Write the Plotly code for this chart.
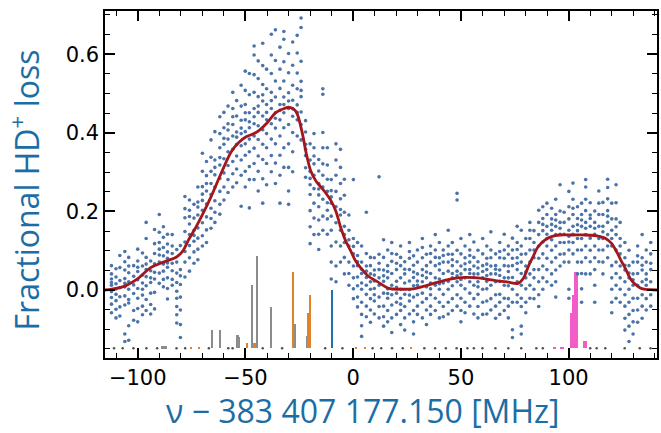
import plotly.graph_objects as go

# ---- measured scan: frequency columns (MHz offset) and fractional loss values ----
freq_left = [-112.2, -110.1, -108.3, -106.0, -104.2, -101.9, -100.0, -97.8, -96.1,
             -94.0, -92.2, -90.0, -88.1, -86.2, -84.0, -81.9, -80.2, -78.1, -76.0,
             -73.9, -72.1]
loss_left = [
    [0.062, 0.041, 0.028, 0.012, -0.004, -0.019, -0.036, -0.058, 0.019],
    [0.054, 0.033, 0.016, 0.003, -0.011, -0.027, -0.049, -0.071],
    [0.088, 0.057, 0.024, -0.017, -0.043, -0.066, 0.006],
    [0.098, 0.072, 0.051, 0.029, 0.008, -0.015, -0.038, -0.112, -0.131, 0.017],
    [0.083, 0.044, 0.021, 0.002, -0.024, -0.033, -0.091, -0.128, 0.061],
    [0.062, 0.035, 0.013, -0.009, -0.052, -0.077],
    [0.104, 0.074, 0.047, 0.026, 0.004, -0.021, -0.047, -0.081, 0.058],
    [0.094, 0.061, 0.038, 0.018, 0.002, -0.013, -0.041, -0.063],
    [0.172, 0.131, 0.083, 0.052, 0.034, 0.011, -0.024, -0.052, 0.066],
    [0.074, 0.049, 0.019, -0.008, -0.037, -0.061, 0.031],
    [0.154, 0.118, 0.093, 0.067, 0.045, 0.028, -0.006, -0.048],
    [0.192, 0.147, 0.121, 0.089, 0.071, 0.043, 0.017, 0.104],
    [0.161, 0.134, 0.108, 0.087, 0.066, 0.048, 0.027, 0.008],
    [0.142, 0.117, 0.097, 0.081, 0.058, 0.031, 0.004, -0.023, 0.069],
    [0.112, 0.093, 0.068, 0.049, 0.027, 0.012, 0.141],
    [0.103, 0.071, 0.043, 0.019, -0.003, -0.021, -0.042, -0.063, -0.084],
    [0.113, 0.052, 0.014, -0.018, -0.051, -0.088, -0.121, 0.036],
    [0.238, 0.207, 0.184, 0.149, 0.122, 0.098, 0.071, 0.033],
    [0.229, 0.203, 0.168, 0.141, 0.113, 0.082, 0.048, 0.187],
    [0.218, 0.183, 0.152, 0.124, 0.097, 0.068, 0.139],
    [0.262, 0.224, 0.191, 0.158, 0.132, 0.104, 0.077, 0.211],
]

freq_peak = [-70.0, -68.1, -66.0, -64.2, -61.9, -60.0, -58.1, -55.9, -54.1, -52.0,
             -50.1, -48.2, -46.0, -44.1, -42.0, -40.2, -38.0, -36.1, -34.0, -32.2,
             -30.0, -28.1, -26.0, -24.2]
loss_peak = [
    [0.348, 0.302, 0.263, 0.228, 0.203, 0.171, 0.138, 0.112, 0.244],
    [0.327, 0.291, 0.252, 0.219, 0.186, 0.153, 0.121, 0.271],
    [0.382, 0.338, 0.302, 0.271, 0.243, 0.208, 0.182, 0.157],
    [0.403, 0.331, 0.293, 0.262, 0.227, 0.198, 0.172, 0.312],
    [0.441, 0.398, 0.362, 0.318, 0.284, 0.251, 0.218, 0.193, 0.337],
    [0.452, 0.413, 0.371, 0.334, 0.298, 0.262, 0.229, 0.386],
    [0.468, 0.423, 0.384, 0.352, 0.317, 0.281, 0.248, 0.407],
    [0.503, 0.462, 0.421, 0.392, 0.358, 0.327, 0.296, 0.262, 0.441],
    [0.482, 0.443, 0.402, 0.371, 0.341, 0.308, 0.273, 0.389],
    [0.521, 0.468, 0.432, 0.398, 0.367, 0.331, 0.292, 0.213, 0.412],
    [0.557, 0.508, 0.472, 0.433, 0.403, 0.372, 0.343, 0.302, 0.262, 0.451],
    [0.551, 0.497, 0.451, 0.413, 0.384, 0.352, 0.314, 0.281, 0.209, 0.428],
    [0.621, 0.598, 0.548, 0.503, 0.462, 0.423, 0.392, 0.361, 0.322, 0.281, 0.441],
    [0.583, 0.538, 0.492, 0.452, 0.418, 0.383, 0.341, 0.302, 0.252, 0.468],
    [0.628, 0.571, 0.523, 0.481, 0.443, 0.408, 0.371, 0.332, 0.283, 0.221, 0.497],
    [0.562, 0.512, 0.472, 0.433, 0.398, 0.362, 0.322, 0.268, 0.452],
    [0.651, 0.598, 0.551, 0.503, 0.462, 0.423, 0.384, 0.342, 0.301, 0.482],
    [0.662, 0.584, 0.532, 0.491, 0.451, 0.412, 0.372, 0.323, 0.271, 0.437],
    [0.618, 0.562, 0.513, 0.472, 0.433, 0.392, 0.343, 0.292, 0.221, 0.457],
    [0.658, 0.638, 0.581, 0.532, 0.491, 0.451, 0.413, 0.362, 0.312, 0.472],
    [0.602, 0.553, 0.502, 0.462, 0.421, 0.372, 0.312, 0.252, 0.218, 0.481],
    [0.631, 0.572, 0.521, 0.483, 0.442, 0.401, 0.352, 0.301, 0.461],
    [0.648, 0.603, 0.552, 0.512, 0.471, 0.433, 0.392, 0.452],
    [0.692, 0.668, 0.582, 0.531, 0.492, 0.453, 0.421, 0.382, 0.508],
]

freq_mid = [-22.1, -20.0, -18.2, -16.0, -14.1, -12.0, -10.2, -8.0, -5.9, -4.1,
            -2.0, 0.1, 2.0, 3.9, 6.1, 8.0, 9.8, 12.0, 14.1, 16.0, 17.9, 20.1,
            22.0, 23.9, 26.1, 28.0, 29.8, 32.1, 34.0, 35.9, 38.1, 40.0, 41.8,
            44.1, 46.0, 48.2, 50.0, 51.9, 54.1, 56.0, 57.9, 60.1, 62.0, 63.9,
            66.1, 68.0, 70.1, 72.0, 73.9, 76.1]
loss_mid = [
    [0.431, 0.402, 0.371, 0.342, 0.311, 0.287, 0.358],
    [0.372, 0.331, 0.302, 0.268, 0.243, 0.202, 0.161, 0.118, 0.284],
    [0.398, 0.362, 0.321, 0.292, 0.258, 0.221, 0.183, 0.141, 0.341],
    [0.332, 0.303, 0.271, 0.242, 0.212, 0.178, 0.142, 0.103, 0.257],
    [0.512, 0.498, 0.401, 0.362, 0.321, 0.292, 0.262, 0.231, 0.188, 0.152],
    [0.362, 0.318, 0.282, 0.251, 0.222, 0.181, 0.142, 0.203],
    [0.281, 0.253, 0.221, 0.188, 0.152, 0.112, 0.071, 0.028, 0.237],
    [0.372, 0.331, 0.292, 0.251, 0.212, 0.171, 0.122, 0.061, 0.021],
    [0.358, 0.312, 0.271, 0.232, 0.191, 0.152, 0.112, 0.071, 0.205],
    [0.282, 0.241, 0.198, 0.162, 0.121, 0.083, 0.041, 0.141],
    [0.191, 0.152, 0.112, 0.071, 0.042, 0.012, 0.128],
    [0.281, 0.131, 0.092, 0.061, 0.031, 0.003, -0.022, 0.111],
    [0.121, 0.088, 0.062, 0.033, 0.011, -0.018, -0.043, 0.072],
    [0.112, 0.071, 0.042, 0.018, 0.002, -0.031, -0.062, -0.091, -0.118, 0.053],
    [0.198, 0.093, 0.061, 0.032, 0.012, -0.011, -0.041, -0.068, 0.048],
    [0.062, 0.041, 0.021, 0.002, -0.022, -0.051, -0.082, 0.083],
    [0.082, 0.051, 0.023, 0.004, -0.028, -0.061, 0.038, -0.012],
    [0.288, 0.091, 0.052, 0.031, 0.012, -0.018, -0.042, -0.071, 0.068],
    [0.128, 0.083, 0.051, 0.022, -0.008, -0.041, -0.068, -0.092, 0.036],
    [0.102, 0.062, 0.031, 0.003, -0.021, -0.052, -0.081, 0.047, -0.009],
    [0.121, 0.073, 0.042, 0.012, -0.012, -0.038, -0.071, -0.108, 0.093],
    [0.091, 0.052, 0.022, -0.008, -0.031, -0.062, 0.068, 0.007],
    [0.112, 0.062, 0.031, 0.002, -0.021, -0.052, -0.088, 0.083, -0.036],
    [0.072, 0.041, 0.018, -0.011, -0.042, -0.071, -0.102, 0.053],
    [0.121, 0.081, 0.052, 0.023, 0.001, -0.028, -0.061, 0.098, -0.013],
    [0.063, 0.032, 0.011, -0.018, -0.052, -0.081, -0.112, 0.087, 0.046],
    [0.102, 0.071, 0.041, 0.012, -0.012, -0.041, -0.062, 0.023],
    [0.131, 0.082, 0.052, 0.021, -0.008, -0.031, -0.071, 0.108, 0.037],
    [0.091, 0.062, 0.031, 0.008, -0.022, -0.051, -0.088, 0.046],
    [0.112, 0.071, 0.042, 0.018, -0.012, -0.041, -0.062, 0.093, 0.003],
    [0.141, 0.102, 0.062, 0.031, 0.012, -0.021, -0.052, 0.083],
    [0.121, 0.082, 0.051, 0.028, 0.002, -0.031, -0.071, 0.067, 0.016],
    [0.102, 0.071, 0.042, 0.018, -0.011, -0.042, 0.088, -0.068],
    [0.152, 0.112, 0.071, 0.048, 0.022, 0.002, -0.031, -0.061, 0.091],
    [0.121, 0.091, 0.062, 0.031, 0.011, -0.022, -0.052, 0.042, 0.077],
    [0.246, 0.229, 0.101, 0.072, 0.048, 0.021, -0.012, -0.041, 0.036],
    [0.131, 0.092, 0.061, 0.041, 0.012, -0.021, -0.052, -0.081, 0.027],
    [0.112, 0.082, 0.052, 0.031, 0.003, -0.031, 0.067, -0.058],
    [0.141, 0.102, 0.071, 0.042, 0.021, -0.008, -0.041, 0.088, 0.052],
    [0.122, 0.083, 0.061, 0.032, 0.012, -0.022, -0.061, 0.041],
    [0.101, 0.072, 0.041, 0.021, -0.011, -0.042, -0.071, 0.056, 0.008],
    [0.131, 0.092, 0.062, 0.031, 0.002, -0.031, 0.047, -0.062],
    [0.112, 0.081, 0.052, 0.022, 0.003, -0.028, -0.061, 0.066, 0.037],
    [0.148, 0.102, 0.061, 0.041, 0.012, -0.022, -0.051, 0.082],
    [0.092, 0.062, 0.041, 0.021, -0.012, -0.041, 0.053, -0.072],
    [0.121, 0.082, 0.051, 0.022, -0.011, -0.031, -0.062, 0.037, 0.098],
    [0.142, 0.102, 0.062, 0.031, 0.012, -0.021, -0.052, 0.081],
    [0.091, 0.061, 0.031, 0.011, -0.022, -0.041, -0.071, 0.047, 0.112],
    [0.132, 0.102, 0.062, 0.032, 0.002, -0.031, -0.101, -0.121, 0.081],
    [0.162, 0.121, 0.082, 0.052, 0.021, -0.012, -0.031, 0.103, 0.068],
]

freq_right = [78.0, 80.1, 82.0, 83.9, 86.1, 88.0, 89.9, 92.1, 94.0, 96.0, 97.9,
              100.1, 102.0, 104.1, 106.0, 107.9, 110.0, 112.1, 114.0, 115.9, 118.1,
              120.0, 122.0, 123.9, 126.1, 128.0, 129.9, 132.0, 134.1, 136.0, 138.1]
loss_right = [
    [0.152, 0.112, 0.071, 0.042, 0.012, -0.021, -0.042, -0.092, -0.112, 0.091],
    [0.131, 0.092, 0.061, 0.031, 0.003, -0.031, 0.046, -0.058],
    [0.172, 0.131, 0.102, 0.071, 0.041, 0.012, -0.021, 0.152],
    [0.151, 0.121, 0.082, 0.052, 0.031, 0.002, -0.022, 0.102],
    [0.203, 0.172, 0.141, 0.112, 0.081, 0.052, 0.021, -0.012, -0.042],
    [0.212, 0.182, 0.151, 0.122, 0.092, 0.061, 0.031, 0.002, 0.167],
    [0.221, 0.192, 0.162, 0.131, 0.112, 0.081, 0.052, 0.021, 0.142],
    [0.208, 0.181, 0.152, 0.128, 0.101, 0.071, 0.041, 0.012, 0.167],
    [0.231, 0.192, 0.162, 0.141, 0.112, 0.082, 0.051, 0.021, -0.018, 0.178],
    [0.268, 0.201, 0.172, 0.142, 0.121, 0.091, 0.061, 0.157],
    [0.172, 0.142, 0.121, 0.092, 0.071, 0.198],
    [0.251, 0.212, 0.181, 0.152, 0.122, 0.102, 0.071, 0.002, -0.021, 0.137],
    [0.272, 0.231, 0.192, 0.162, 0.142, 0.121, 0.092, 0.208],
    [0.212, 0.182, 0.151, 0.131, 0.102, 0.071, 0.041, 0.166],
    [0.221, 0.192, 0.162, 0.131, 0.102, 0.071, 0.042, 0.003, -0.031, 0.178],
    [0.281, 0.262, 0.231, 0.202, 0.172, 0.141, 0.112, 0.082, 0.041, 0.157],
    [0.222, 0.191, 0.162, 0.132, 0.101, 0.072, 0.041, 0.182],
    [0.201, 0.172, 0.142, 0.112, 0.082, 0.052, 0.012, -0.031, 0.157],
    [0.252, 0.192, 0.162, 0.131, 0.102, 0.072, 0.221],
    [0.223, 0.192, 0.162, 0.131, 0.102, 0.071, 0.041, 0.148],
    [0.282, 0.261, 0.232, 0.202, 0.172, 0.141, 0.112, 0.082, 0.188],
    [0.221, 0.181, 0.152, 0.112, 0.062, 0.031, 0.002, -0.031, -0.058, 0.131],
    [0.268, 0.222, 0.181, 0.141, 0.102, 0.071, 0.042, 0.012, -0.021, 0.161],
    [0.172, 0.131, 0.092, 0.061, 0.031, 0.002, -0.031, 0.112],
    [0.121, 0.082, 0.051, 0.021, -0.012, -0.041, -0.072, -0.102, 0.063],
    [0.101, 0.062, 0.031, 0.002, -0.031, -0.062, -0.092, -0.131, 0.043],
    [0.071, 0.041, 0.012, -0.021, -0.052, -0.081, -0.112, 0.026],
    [0.112, 0.071, 0.042, 0.012, -0.021, -0.051, -0.082, 0.087],
    [0.141, 0.082, 0.051, 0.021, -0.012, -0.041, -0.072, 0.063],
    [0.102, 0.071, 0.041, 0.012, -0.022, -0.051, 0.027],
    [0.121, 0.092, 0.052, 0.021, -0.012, -0.041, 0.068],
]

# ---- fitted line shape ----
fit_x = [-115.2, -112, -106, -100, -94, -88, -82, -79, -76.5, -73, -70.5, -66,
         -61.3, -56.6, -53, -49.7, -46, -43.5, -40, -35.8, -32, -29.5, -27.5,
         -25.9, -23.5, -22, -19.7, -17, -15, -12.5, -10.4, -8, -5.8, -3.5, -1.2,
         1, 3.4, 7, 11, 16.5, 22, 28, 33, 38, 45, 52, 59, 66, 72, 76.5, 79, 81.2,
         83.5, 85.8, 88.9, 92, 96, 102, 108, 113, 117, 120, 122.5, 124.5, 126.3,
         128.5, 130.4, 133, 135, 138, 141]
fit_y = [0.0, 0.002, 0.01, 0.029, 0.057, 0.071, 0.084, 0.1, 0.127, 0.16, 0.186,
         0.237, 0.297, 0.352, 0.376, 0.39, 0.398, 0.407, 0.425, 0.452, 0.462,
         0.465, 0.46, 0.447, 0.396, 0.353, 0.303, 0.275, 0.262, 0.245, 0.228,
         0.2, 0.159, 0.125, 0.1, 0.075, 0.057, 0.035, 0.022, 0.004, 0.002, 0.003,
         0.01, 0.018, 0.028, 0.032, 0.03, 0.024, 0.02, 0.017, 0.03, 0.059, 0.085,
         0.11, 0.127, 0.136, 0.14, 0.14, 0.14, 0.138, 0.132, 0.118, 0.095, 0.073,
         0.055, 0.03, 0.017, 0.006, 0.002, 0.001, 0.0]

# ---- computed stick spectrum (line position, top of stick) ----
stick_base = -0.148
gray_x = [-88.6, -87.6, -86.6, -65.4, -61.7, -53.6, -52.8, -46.9, -44.5, -38.2, -27.1, -21.5]
gray_top = [-0.143, -0.143, -0.143, -0.103, -0.103, -0.114, -0.119, 0.013, 0.087, -0.044, -0.087, -0.117]
orange_x = [-75.0, -71.6, -49.2, -45.7, -27.9, -20.6, -20.0, 1.5, 5.5, 27.0]
orange_top = [-0.144, -0.144, -0.134, -0.134, 0.045, -0.059, -0.013, -0.144, -0.144, -0.144]
blue_x = [-9.7]
blue_top = [0.0]
pink_x = [93.5, 96.5, 97.5, 101.4, 102.2, 103.0, 103.7, 107.4, 108.2]
pink_top = [-0.144, -0.144, -0.144, -0.058, -0.012, 0.047, 0.045, -0.13, -0.13]
weak_x = [-111, -107, -102, -96, -91, -82, -78, -67, -58, -56, -42, -33, -13,
          -5, 9, 13, 18, 23, 33, 38, 43, 48, 53, 56, 60, 66, 72, 78, 85, 88,
          110, 113, 117, 126, 133, 138]

fig = go.Figure()

def sticks(xs, tops, color, name):
    fig.add_trace(go.Bar(
        x=xs, y=[t - stick_base for t in tops], base=stick_base, width=0.8,
        marker=dict(color=color, line=dict(width=0)), name=name,
        showlegend=False))

sticks(gray_x, gray_top, "#8c8c8c", "gray")
sticks(orange_x, orange_top, "#e0822a", "orange")
sticks(blue_x, blue_top, "#1f72b0", "blue")
sticks(pink_x, pink_top, "#f25bc8", "pink")

fig.add_trace(go.Scatter(
    x=weak_x, y=[stick_base] * len(weak_x), mode="markers",
    marker=dict(size=2.5, color="#505050"), showlegend=False))

scan_x, scan_y = [], []
for freqs, losses in ((freq_left, loss_left), (freq_peak, loss_peak),
                      (freq_mid, loss_mid), (freq_right, loss_right)):
    for f, vals in zip(freqs, losses):
        scan_x += [f] * len(vals)
        scan_y += vals

fig.add_trace(go.Scatter(
    x=scan_x, y=scan_y, mode="markers",
    marker=dict(size=3.6, color="#4b73a7"), showlegend=False))

fig.add_trace(go.Scatter(
    x=fit_x, y=fit_y, mode="lines",
    line=dict(color="#a3161c", width=2.8, shape="spline", smoothing=0.9),
    showlegend=False))

tick_font = dict(family="DejaVu Sans", size=21, color="black")
title_color = "#1b6ea5"

fig.update_layout(
    width=661, height=433,
    margin=dict(l=105, r=2, t=11, b=75),
    paper_bgcolor="white", plot_bgcolor="white",
    barmode="overlay", bargap=0,
    xaxis=dict(
        range=[-115.2, 141], tick0=0, dtick=50, ticks="inside", ticklen=10,
        tickwidth=1.5, tickcolor="black", showline=True, linecolor="black",
        linewidth=1.5, mirror="ticks", showgrid=False, zeroline=False,
        tickfont=tick_font,
        minor=dict(dtick=10, ticks="inside", ticklen=5, tickwidth=1.2,
                   tickcolor="black", showgrid=False),
    ),
    yaxis=dict(
        range=[-0.173, 0.71], tick0=0, dtick=0.2, tickformat=".1f",
        ticks="inside", ticklen=10, tickwidth=1.5, tickcolor="black",
        showline=True, linecolor="black", linewidth=1.5, mirror="ticks",
        showgrid=False, zeroline=False, tickfont=tick_font,
        minor=dict(dtick=0.05, ticks="inside", ticklen=5, tickwidth=1.2,
                   tickcolor="black", showgrid=False),
    ),
    annotations=[
        dict(text="Fractional HD<sup>+</sup> loss", xref="paper", yref="paper",
             x=-0.146, y=0.484, textangle=-90, showarrow=False,
             xanchor="center", yanchor="middle", borderpad=0,
             font=dict(family="Open Sans", size=32, color=title_color)),
        dict(text="ν − 383 407 177.150 [MHz]", xref="paper", yref="paper",
             x=0.466, y=-0.152, showarrow=False, xanchor="center",
             yanchor="middle", borderpad=0,
             font=dict(family="Open Sans", size=32, color=title_color)),
    ],
)

fig.write_html("out.html")
